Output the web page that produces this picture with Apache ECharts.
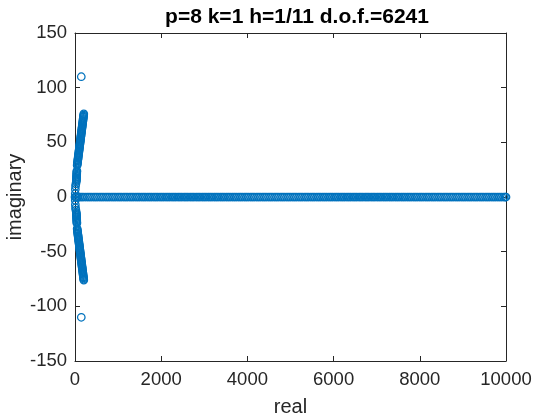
<!DOCTYPE html>
<html>
<head>
<meta charset="utf-8">
<script src="https://cdn.jsdelivr.net/npm/echarts@6/dist/echarts.min.js"></script>
<style>html,body{margin:0;padding:0;background:#fff}#c{width:560px;height:420px}</style>
</head>
<body>
<div id="c"></div>
<script>
// Eigenvalues lying on the real axis (imaginary part 0)
var axisReal = [0, 12, 25, 48, 75, 110, 150, 190, 240, 290, 335, 380, 430, 475, 520, 570, 615, 660, 710, 755, 800, 850, 895, 940, 990, 1035, 1080, 1130, 1175, 1220, 1270, 1315, 1360, 1410, 1455, 1500, 1550, 1595, 1640, 1690, 1735, 1780, 1830, 1875, 1920, 1970, 2015, 2060, 2110, 2155, 2200, 2250, 2295, 2340, 2390, 2435, 2480, 2530, 2575, 2620, 2670, 2715, 2760, 2810, 2855, 2900, 2950, 2995, 3040, 3090, 3135, 3180, 3230, 3275, 3320, 3370, 3415, 3460, 3510, 3555, 3600, 3650, 3695, 3740, 3790, 3835, 3880, 3930, 3975, 4020, 4070, 4115, 4160, 4210, 4255, 4300, 4350, 4395, 4440, 4490, 4535, 4580, 4630, 4675, 4720, 4770, 4815, 4860, 4910, 4955, 5000, 5050, 5095, 5140, 5190, 5235, 5280, 5330, 5375, 5420, 5470, 5515, 5560, 5610, 5655, 5700, 5750, 5795, 5840, 5890, 5935, 5980, 6030, 6075, 6120, 6170, 6215, 6260, 6310, 6355, 6400, 6450, 6495, 6540, 6590, 6635, 6680, 6730, 6775, 6820, 6870, 6915, 6960, 7010, 7055, 7100, 7150, 7195, 7240, 7290, 7335, 7380, 7430, 7475, 7520, 7570, 7615, 7660, 7710, 7755, 7800, 7850, 7895, 7940, 7990, 8035, 8080, 8130, 8175, 8220, 8270, 8315, 8360, 8410, 8455, 8500, 8550, 8595, 8640, 8690, 8735, 8780, 8830, 8875, 8920, 8970, 9015, 9060, 9110, 9155, 9200, 9250, 9295, 9340, 9390, 9435, 9480, 9530, 9575, 9620, 9670, 9715, 9760, 9810, 9855, 9900, 9950, 9985, 10000];

// Complex branch (upper half); lower half is its complex conjugate
var branchReal = [5, 8, 12, 20,
  30, 31, 33, 34, 36, 37, 38, 40, 41, 43, 44,
  50, 53, 57, 60, 63, 66, 70, 73, 76, 80, 83, 86, 89, 93, 96, 99, 103, 106, 109, 112, 116, 119, 122, 126,
  129, 132, 135, 139, 142, 145, 149, 152, 155, 158, 162, 165, 168, 172, 175, 178, 181, 185, 188, 191, 195, 198, 201, 204,
  146];
var branchImag = [3, 7, 10, 12,
  14, 15, 16, 17, 18, 19, 20, 21, 22, 23, 24,
  29, 30, 31, 32, 33, 34, 35, 36, 37, 38, 39, 40, 41, 42, 43, 44, 45, 46, 47, 48, 49, 50, 51, 52,
  53, 54, 55, 56, 57, 58, 59, 60, 61, 62, 63, 64, 65, 66, 67, 68, 69, 70, 71, 72, 73, 74, 75, 76,
  110];

var xTicks = [0, 2000, 4000, 6000, 8000, 10000];
var yTicks = [-150, -100, -50, 0, 50, 100, 150];

var pts = [];
axisReal.forEach(function (r) { pts.push([r, 0]); });
branchReal.forEach(function (r, i) { pts.push([r, branchImag[i]]); pts.push([r, -branchImag[i]]); });

var txt = '#262626';
var fnt = 'Liberation Sans, Arial, Helvetica, sans-serif';
var axisLineStyle = { onZero: false, lineStyle: { color: txt, width: 1 } };
var tickStyle = { inside: true, length: 5, lineStyle: { color: txt } };
var plain = function (v) { return String(v); };

var chart = echarts.init(document.getElementById('c'), null, { renderer: 'canvas' });
chart.setOption({
  animation: false,
  backgroundColor: '#fff',
  title: {
    text: 'p=8 k=1 h=1/11 d.o.f.=6241',
    left: 292, top: 2, textAlign: 'center',
    textStyle: { fontFamily: fnt, fontWeight: 'bold', fontSize: 21, color: '#000' }
  },
  grid: { left: 75, right: 54, top: 33, bottom: 59, containLabel: false, outerBoundsMode: 'none' },
  xAxis: [{
    type: 'value', min: xTicks[0], max: xTicks[xTicks.length - 1], interval: 2000,
    name: 'real', nameLocation: 'middle', nameGap: 36, nameMoveOverlap: false,
    nameTextStyle: { fontFamily: fnt, fontSize: 20, color: txt },
    axisLine: axisLineStyle, axisTick: tickStyle,
    axisLabel: { fontFamily: fnt, fontSize: 18.5, color: txt, margin: 9, formatter: plain },
    splitLine: { show: false }
  }, {
    type: 'value', position: 'top', min: xTicks[0], max: xTicks[xTicks.length - 1], interval: 2000,
    axisLine: axisLineStyle, axisTick: tickStyle,
    axisLabel: { show: false }, splitLine: { show: false }
  }],
  yAxis: [{
    type: 'value', min: yTicks[0], max: yTicks[yTicks.length - 1], interval: 50,
    name: 'imaginary', nameLocation: 'middle', nameGap: 50, nameMoveOverlap: false,
    nameTextStyle: { fontFamily: fnt, fontSize: 20, color: txt },
    axisLine: axisLineStyle, axisTick: tickStyle,
    axisLabel: { fontFamily: fnt, fontSize: 18.5, color: txt, margin: 8, formatter: plain },
    splitLine: { show: false }
  }, {
    type: 'value', position: 'right', min: yTicks[0], max: yTicks[yTicks.length - 1], interval: 50,
    axisLine: axisLineStyle, axisTick: tickStyle,
    axisLabel: { show: false }, splitLine: { show: false }
  }],
  series: [{
    type: 'scatter',
    xAxisIndex: 0, yAxisIndex: 0,
    data: pts,
    symbol: 'circle',
    symbolSize: 7.5,
    itemStyle: { color: 'rgba(0,0,0,0)', borderColor: '#0072BD', borderWidth: 1.25, opacity: 1 },
    emphasis: { disabled: true }
  }]
});
</script>
</body>
</html>
